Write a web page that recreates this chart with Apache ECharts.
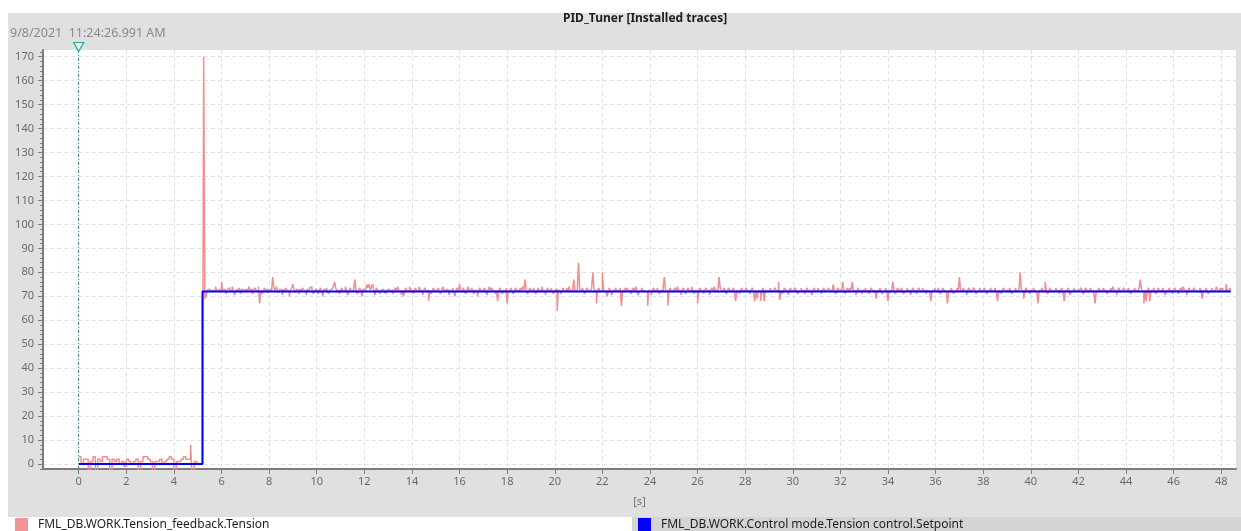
<!DOCTYPE html>
<html>
<head>
<meta charset="utf-8">
<script src="https://cdn.jsdelivr.net/npm/echarts@6/dist/echarts.min.js"></script>
<style>
  html, body { margin: 0; padding: 0; background: #ffffff; }
  #chart { width: 1241px; height: 531px; }
</style>
</head>
<body>
<div id="chart"></div>
<script>
// ---------------- DATA ----------------
const chartTitle = 'PID_Tuner [Installed traces]';
const timestampText = '9/8/2021  11:24:26.991 AM';
const xAxisName = '[s]';
const seriesNames = ['FML_DB.WORK.Tension_feedback.Tension', 'FML_DB.WORK.Control mode.Tension control.Setpoint'];

const xTickValues = [0, 2, 4, 6, 8, 10, 12, 14, 16, 18, 20, 22, 24, 26, 28, 30, 32, 34, 36, 38, 40, 42, 44, 46, 48];
const yTickValues = [0, 10, 20, 30, 40, 50, 60, 70, 80, 90, 100, 110, 120, 130, 140, 150, 160, 170];
const xRange = [-1.5, 48.62];
const yRange = [-2.1, 172.8];

// Tension feedback, sampled every 0.05 s starting at t = 0 s (one row = 1 s)
const tensionStart = 0;
const tensionPeriod = 0.05;
const tensionValues = [
  3,3,0,0,2,2,2,2,-3,-3, 1,1,3,3,-3,-3,2,2,1,1,
  3,3,3,3,2,2,-3,-3,2,2, 1,1,2,2,0,0,1,1,-1,-1,
  2,2,1,1,0,0,1,1,2,2, -3,-3,1,1,3,3,3,3,2,2,
  1,1,-3,-3,1,1,1,1,2,2, 0,0,1,1,2,2,3,3,2,2,
  -3,-3,1,1,1,1,2,2,3,3, 2,2,2,2,8,-3,-3,1,1,1,
  0,0,0,0,0,170,69,70,72.5,73, 73.5,72,72.5,73,72,74,72.5,72,73,72.5,
  76,72.5,73,72,71,73,73.5,72,72.5,74, 72,70.5,72.5,73,72,73.5,71,73,72.5,72,
  73,73.5,72,74,72.5,73,71,72,73.5,72.5, 72,74,67,72.5,71,72,73.5,72.5,73,71.5,
  72.5,73,72,78,73.5,72,74,72.5,71.5,73, 72.5,70.5,73,72,73.5,72.5,72,70,72.5,73.5,
  75,72.5,71.5,73,72.5,71,73,72,73.5,72.5, 72,70.5,73,72.5,73.5,74,72.5,71,72,73,
  72.5,71,72,73.5,72.5,70,73,72.5,73.5,72, 71,72.5,73,72.5,74,76,73.5,72,72.5,71,
  72.5,73.5,72,72.5,74,72.5,70.5,72,73.5,72.5, 72,73,77,72.5,71,72,73.5,72.5,70,73,
  72.5,72,75,73.5,75,72.5,74,75,72,70.5, 73.5,72.5,72,71,72.5,73,73.5,72,71,72.5,
  73,73.5,72,72.5,71,72.5,73.5,72,74,72.5, 72,70.5,72.5,70,72.5,73.5,72,72.5,74,72.5,
  72,71,72.5,73.5,72,72.5,74,72.5,72,70.5, 72.5,73.5,72,72.5,68,72.5,71,72,73.5,72.5,
  72,72.5,73.5,72,71,72.5,74,72.5,72,73, 72.5,70.5,72,72.5,73.5,72,70,72.5,73.5,72,
  75,72.5,72,73.5,72.5,71,72,74,72.5,72, 73.5,72.5,71,72.5,72,70,72.5,73.5,72,72.5,
  72.5,73.5,72,70.5,72.5,74,72,73.5,72.5,72, 71,72.5,68,72.5,73.5,72,71,72.5,72,73.5,
  67,72.5,72,73.5,72.5,71,72,73.5,72.5,72, 72.5,73.5,72,74,72.5,77,72.5,71,72,73.5,
  72.5,72,73.5,72.5,71,72,73.5,72,72.5,74, 72.5,72,70.5,72.5,73.5,72,72.5,73.5,72,71,
  72.5,73,64,72.5,72,71,72.5,73.5,72,72.5, 73.5,72,74,72.5,72,72.5,77,72,72.5,73.5,
  84,72.5,72,73.5,72.5,71,72,73.5,72.5,72, 72.5,73.5,80,72.5,72,67,72.5,73.5,72,72.5,
  80,72.5,72,72.5,70,72.5,73.5,72,70.5,72.5, 72,73.5,72.5,72,72.5,73.5,66,72.5,72,73.5,
  72.5,73.5,72,72.5,71,72.5,73.5,72,74,72.5, 70.5,72,72.5,73.5,72.5,72,72.5,72,66,72.5,
  72,70.5,72.5,73.5,72,72.5,73.5,72,71,72.5, 72,73.5,78,72.5,72,66,72.5,73.5,72,72.5,
  72.5,73.5,72,74,72.5,72,70.5,72.5,73.5,72, 71,72.5,73.5,72,72.5,74,72.5,71,72.5,72,
  67,72.5,73.5,72,72.5,71,72.5,73.5,72,72.5, 70.5,72.5,73.5,72,74,72.5,72,72.5,78,73.5,
  72.5,72,73.5,72.5,71,72,73.5,72.5,72,72.5, 73.5,72,68,72.5,72,71,72.5,73.5,72,72.5,
  72.5,73.5,72,72.5,71,72.5,73.5,72,68,72.5, 69,72.5,72,68,72.5,73.5,68,72.5,72,72.5,
  72.5,73.5,72,72.5,72,73.5,72.5,72,76,68.5, 72.5,71,72,73.5,72.5,72,70.5,72.5,73.5,72,
  72.5,72,73.5,72.5,71,72,72.5,73.5,72,72.5, 71,72.5,73.5,72,72.5,72,70.5,72.5,73.5,72,
  72.5,73.5,72,72.5,71,72.5,73.5,72,72.5,72, 73.5,72.5,72,72.5,75,72,71,72.5,73.5,72,
  72.5,72,76,72.5,71,72.5,73.5,72,73.5,72.5, 76,72,72.5,70.5,72.5,73.5,72,72.5,71,72.5,
  72.5,73.5,72,72.5,71,72.5,73.5,72,72.5,72, 69,72.5,72,73.5,72.5,71,72,72.5,73.5,72,
  68,72.5,72,72.5,76,72.5,71,72,73.5,72.5, 72,73.5,72.5,71,72,72.5,73.5,72,72.5,70.5,
  72.5,73.5,72,72.5,71,72.5,73.5,72,72.5,73.5, 72,72.5,71,72.5,72,72.5,68,72.5,72,73.5,
  72.5,72,73.5,72.5,71,72,73.5,72.5,72,72.5, 67,72.5,72,73.5,72.5,71,72,72.5,73.5,72,
  78,72.5,72,73.5,72.5,72,70.5,72.5,73.5,72, 72.5,72,73.5,72.5,71,72,72.5,73.5,72,72.5,
  72.5,73.5,72,71,72.5,72,73.5,72.5,72,72.5, 73.5,72,68,72.5,72,71,72.5,73.5,72,72.5,
  72.5,72,73.5,72.5,71,72,72.5,73.5,72,72.5, 72,80,72.5,72,69,72.5,73.5,72,72.5,71,
  72.5,72,73.5,72.5,72,72.5,67,72.5,72,73.5, 72.5,72,76,72.5,71,72,73.5,72.5,72,72.5,
  72.5,73.5,72,72.5,71,72.5,73.5,72,68,72.5, 72,73.5,72.5,70.5,72,72.5,73.5,72,72.5,72,
  72.5,72,73.5,72.5,71,72,73.5,72.5,72,72.5, 73.5,72,72.5,71,67,72.5,72,73.5,72.5,72,
  72.5,73.5,72,72.5,71,72,72.5,73.5,72,74, 72.5,72,70.5,72.5,73.5,72,72.5,72,73.5,72.5,
  72,72.5,73.5,72,71,72.5,72,73.5,72.5,72, 72.5,73.5,77,72.5,72,67,72.5,68,72.5,73.5,
  68,72.5,72,73.5,72.5,71,72,73.5,72.5,72, 72.5,73.5,72,70.5,72.5,72,73.5,72.5,72,71,
  72.5,73.5,72,72.5,71,72.5,73.5,72,74,72.5, 72,70.5,72.5,73.5,72,72.5,72,73.5,72.5,72,
  72.5,72,73.5,72.5,69,72.5,72,73.5,72.5,71, 72,72.5,73.5,72,72.5,72,74,72.5,72,73.5,
  72.5,73.5,72,72.5,75,72.5,72,73.5,72.5
];

// Setpoint (step held until next change)
const setpointTimes = [0, 5.2, 48.4];
const setpointValues = [0, 72, 72];

// Cursor position
const cursorTime = 0;

// ---------------- CHART ----------------
const FONT = 'Noto Sans';
const tensionData = tensionValues.map((v, i) => [+(tensionStart + i * tensionPeriod).toFixed(3), v]);
const setpointData = setpointTimes.map((t, i) => [t, setpointValues[i]]);

const chart = echarts.init(document.getElementById('chart'), null, { renderer: 'canvas' });

const gridLine = { show: true, lineStyle: { color: '#e2e2e2', width: 1, type: [4, 3] } };
const axisGray = '#7c7c7c';

chart.setOption({
  animation: false,
  backgroundColor: '#ffffff',
  textStyle: { fontFamily: FONT },
  graphic: [
    { type: 'rect', z: -10, silent: true, shape: { x: 8, y: 13, width: 1233, height: 504 }, style: { fill: '#e0e0e0' } },
    { type: 'rect', z: -10, silent: true, shape: { x: 8, y: 517, width: 624, height: 14 }, style: { fill: '#ffffff' } },
    { type: 'rect', z: -10, silent: true, shape: { x: 632, y: 517, width: 609, height: 14 }, style: { fill: '#d4d4d4' } }
  ],
  title: [
    { text: chartTitle, left: 563, top: 13, padding: 0,
      textStyle: { fontFamily: FONT, fontSize: 12, fontWeight: 'bold', color: '#1e1e1e' } },
    { text: timestampText, left: 10, top: 27, padding: 0,
      textStyle: { fontFamily: FONT, fontSize: 12.5, fontWeight: 'normal', color: '#8a8a8a' } }
  ],
  legend: [
    { data: [seriesNames[0]], left: 15, top: 518, padding: 0, icon: 'rect', itemWidth: 13, itemHeight: 13,
      selectedMode: false, textStyle: { fontFamily: FONT, fontSize: 12, color: '#1e1e1e', padding: [0, 0, 0, 5] } },
    { data: [seriesNames[1]], left: 638, top: 518, padding: 0, icon: 'rect', itemWidth: 13, itemHeight: 13,
      selectedMode: false, textStyle: { fontFamily: FONT, fontSize: 12, color: '#1e1e1e', padding: [0, 0, 0, 5] } }
  ],
  grid: { left: 43, top: 50, width: 1193, height: 419, show: true, backgroundColor: '#ffffff', borderWidth: 0, containLabel: false },
  xAxis: {
    type: 'value', min: xRange[0], max: xRange[1], splitNumber: 25,
    name: xAxisName, nameLocation: 'middle', nameGap: 27,
    nameTextStyle: { fontFamily: FONT, fontSize: 11, color: '#707070' },
    axisLine: { show: true, onZero: false, lineStyle: { color: axisGray, width: 2 } },
    axisTick: { show: true, length: 5, customValues: xTickValues, lineStyle: { color: axisGray, width: 1 } },
    axisLabel: { customValues: xTickValues, margin: 7, fontFamily: FONT, fontSize: 11, color: '#6a6a6a' },
    splitLine: gridLine
  },
  yAxis: {
    type: 'value', min: yRange[0], max: yRange[1], splitNumber: 17,
    axisLine: { show: true, onZero: false, lineStyle: { color: axisGray, width: 2 } },
    axisTick: { show: true, length: 5, customValues: yTickValues, lineStyle: { color: axisGray, width: 1 } },
    minorTick: { show: true, splitNumber: 5, length: 3, lineStyle: { color: axisGray, width: 1 } },
    axisLabel: { customValues: yTickValues, margin: 9, fontFamily: FONT, fontSize: 11, color: '#6a6a6a' },
    splitLine: gridLine
  },
  series: [
    {
      name: seriesNames[0], type: 'line', step: 'end', showSymbol: false, symbol: 'none',
      data: tensionData, clip: true,
      lineStyle: { color: '#f28e8e', width: 1.5 },
      itemStyle: { color: '#f29494' }, z: 2
    },
    {
      name: seriesNames[1], type: 'line', step: 'end', showSymbol: false, symbol: 'none',
      data: setpointData, clip: true,
      lineStyle: { color: '#0000ff', width: 2 },
      itemStyle: { color: '#0000ff' }, z: 3,
      markLine: {
        silent: true, symbol: ['none', 'none'], label: { show: false },
        lineStyle: { color: '#35a0a0', width: 1, type: [3, 2, 1, 2] },
        data: [{ xAxis: cursorTime }]
      },
      markPoint: {
        silent: true, symbol: 'triangle', symbolRotate: 180, symbolSize: [10, 9], symbolOffset: [0, -3],
        label: { show: false },
        itemStyle: { color: '#eaf6f6', borderColor: '#35a0a0', borderWidth: 1.2 },
        data: [{ coord: [cursorTime, yRange[1]] }]
      }
    }
  ]
});
</script>
</body>
</html>
